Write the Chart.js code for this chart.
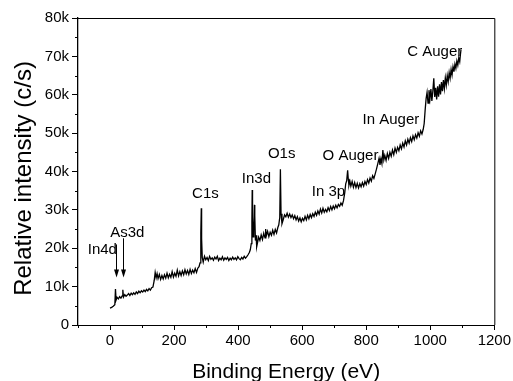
<!DOCTYPE html>
<html lang="en">
<head>
    <meta charset="UTF-8">
    <title>XPS survey spectrum</title>
    <script src="https://cdn.jsdelivr.net/npm/chart.js"></script>
    <style>
        body {
            margin: 0;
            background: #fff;
        }
        #wrap {
            width: 513px;
            height: 381px;
        }
    </style>
</head>
<body>
    <div id="wrap"><canvas id="xps" width="513" height="381"></canvas></div>

    <script>
        const energy = [
            0, 5, 10, 15, 17, 19, 22, 26, 30, 34, 38, 40, 42, 46, 50, 54, 58, 62, 66, 70,
            74, 78, 82, 86, 90, 94, 98, 102, 106, 110, 114, 118, 122, 126, 130, 134,
            138, 141, 144, 147, 150, 154, 158, 162, 166, 170, 174, 178, 182, 186, 190, 194, 198, 202, 206, 210,
            214, 218, 222, 226, 230, 234, 238, 242, 246, 250, 254, 258, 262, 266, 270, 274, 278,
            281, 283, 284, 285, 286, 288, 291, 295, 299, 303, 307, 311, 315, 319, 323, 327, 331, 335, 339, 343,
            347, 351, 355, 359, 363, 367, 371, 375, 379, 383, 387, 391, 395, 399, 403, 407, 411, 415, 419, 423,
            427, 431, 435,
            438, 441, 443, 444, 445, 447, 449, 451, 452, 454, 456, 458, 461, 464, 468, 472, 476, 480, 484, 486,
            488, 492, 496, 500, 504, 508, 512, 516, 520, 524, 527, 530, 532, 534, 537,
            541, 545, 549, 553, 557, 561, 565, 569, 573, 577, 581, 585, 589, 593, 597, 601, 605, 609, 613, 617,
            621, 625, 629, 633, 637, 641, 645, 649, 653, 657, 661, 665, 669, 673, 677, 681, 685, 689, 693, 697,
            701, 705, 709, 713, 717, 721, 725, 729, 733, 736, 739, 742, 744, 746, 749,
            752, 756, 760, 764, 768, 772, 776, 780, 784, 788, 792, 796, 800, 804, 808, 812, 816, 820, 824, 828,
            832, 836, 840, 843, 846, 849, 852, 855, 858, 862, 866, 870, 874, 878, 882, 886, 890, 894, 898, 902,
            906, 910, 914, 918, 922, 926, 930, 934, 938, 942, 946, 950, 954, 958, 962, 966, 970, 974, 978, 981,
            984, 987, 990, 993, 996, 999, 1002, 1005, 1008, 1011, 1014, 1017, 1020, 1023, 1026, 1029, 1032, 1035, 1038, 1041,
            1044, 1047, 1050, 1053, 1056, 1059, 1062, 1065, 1068, 1071, 1074, 1077, 1080, 1083, 1086, 1089, 1092, 1094, 1096
        ];
        const intensity = [
            4.4, 4.6, 4.9, 5.3, 9.4, 6.5, 7.2, 6.8, 7.4, 7.0, 7.6, 9.2, 7.3, 7.9, 7.5, 7.8, 8.2, 7.7, 8.3, 7.9,
            8.4, 8.0, 8.6, 8.2, 8.8, 8.4, 8.9, 8.6, 9.1, 8.7, 9.3, 8.9, 9.5, 9.1, 9.7, 9.9,
            11.6, 13.7, 12.3, 13.4, 12.1, 13.2, 11.9, 12.9, 12.0, 13.1, 12.2, 13.5, 12.3, 13.2, 12.4, 13.9, 12.5, 13.5, 12.7, 14.3,
            12.8, 13.9, 12.9, 14.1, 13.1, 14.4, 13.3, 14.2, 13.2, 14.5, 13.4, 14.3, 13.6, 14.7, 13.7, 14.8, 15.2,
            16.2, 19.0, 24.0, 30.4, 22.5, 17.6, 16.4, 17.9, 17.0, 17.6, 16.8, 17.9, 17.1, 17.5, 16.9, 17.7, 17.2, 17.9, 16.8, 17.4,
            17.0, 17.8, 16.9, 17.5, 17.1, 17.6, 16.8, 17.4, 17.0, 17.7, 17.1, 17.5, 17.0, 17.8, 17.3, 17.0, 17.6, 17.2, 17.9, 17.4,
            17.8, 18.3, 18.9,
            19.6, 21.2, 27.0, 35.2, 28.0, 23.0, 24.6, 31.3, 28.5, 22.0, 23.4, 20.4, 21.6, 22.9, 22.0, 23.5, 22.3, 23.9, 22.7, 25.0,
            23.2, 24.4, 23.0, 24.2, 23.4, 24.7, 23.6, 24.9, 24.0, 25.4, 26.1, 28.0, 40.6, 29.0, 26.4,
            27.5, 28.7, 28.2, 29.1, 28.1, 28.9, 28.0, 28.7, 27.7, 28.5, 27.4, 28.2, 27.1, 27.9, 26.9, 27.8, 27.2, 28.3, 27.4, 28.6,
            27.7, 28.8, 28.0, 29.0, 28.3, 29.4, 28.6, 29.7, 28.9, 30.2, 29.2, 30.4, 29.4, 30.1, 29.5, 30.6, 29.8, 30.9, 30.0, 31.0,
            30.3, 31.2, 30.5, 31.4, 30.9, 31.8, 31.2, 32.4, 34.5, 36.8, 37.6, 40.3, 38.0, 36.4, 37.5,
            36.2, 37.4, 35.9, 37.1, 35.8, 36.9, 35.7, 36.8, 36.0, 37.1, 36.2, 37.4, 36.6, 37.9, 37.0, 38.3, 37.5, 38.9, 38.2, 39.4,
            40.6, 42.0, 43.4, 41.7, 43.3, 42.1, 45.6, 43.0, 44.2, 42.9, 44.7, 43.4, 45.0, 44.0, 45.6, 44.4, 46.1, 45.0, 46.3, 45.4,
            46.9, 45.9, 47.4, 46.4, 48.0, 46.9, 48.4, 47.4, 48.8, 47.8, 49.3, 48.3, 49.6, 48.7, 50.1, 49.2, 50.6, 49.8, 51.0, 52.5,
            56.0, 59.0, 60.6, 57.8, 61.2, 58.9, 61.5, 58.4, 60.9, 64.3, 59.4, 61.8, 58.8, 62.2, 59.5, 62.7, 60.1, 63.3, 60.9, 63.8,
            61.6, 64.4, 62.5, 65.0, 63.4, 65.8, 64.3, 66.6, 65.1, 67.3, 66.0, 68.0, 66.9, 68.8, 67.7, 69.6, 68.6, 70.4, 71.8
        ];

        // axis ticks
        const xTicks = [0, 200, 400, 600, 800, 1000, 1200];
        const xMinor = [-100, 100, 300, 500, 700, 900, 1100];
        const yTicks = [0, 10, 20, 30, 40, 50, 60, 70, 80];
        const yMinor = [5, 15, 25, 35, 45, 55, 65, 75];

        // peak labels, anchored in data coordinates (eV, k c/s)
        const peakNames = ['In4d', 'As3d', 'C1s', 'In3d', 'O1s', 'In 3p', 'O Auger', 'In Auger', 'C Auger'];
        const peakE = [-24, 54, 298, 457, 536, 682, 751, 877, 1014];
        const peakI = [19.7, 24.0, 34.3, 38.2, 44.7, 34.7, 44.0, 53.4, 71.2];

        // arrows for In4d and As3d: energy, start and end intensity
        const arrowE = [18, 41];
        const arrowFrom = [21.0, 22.6];
        const arrowTo = [12.4, 12.4];

        const FONT = "'Liberation Sans', Arial, sans-serif";

        const decorations = {
            id: 'decorations',
            afterDraw(chart) {
                const { ctx, chartArea: a, scales: { x, y } } = chart;
                ctx.save();
                ctx.strokeStyle = '#000';
                ctx.fillStyle = '#000';
                ctx.lineWidth = 1;

                // top and right frame
                ctx.beginPath();
                ctx.moveTo(a.left, a.top + 0.5);
                ctx.lineTo(a.right + 0.5, a.top + 0.5);
                ctx.lineTo(a.right + 0.5, a.bottom);
                ctx.stroke();

                // minor ticks
                ctx.beginPath();
                xMinor.forEach(v => {
                    const px = Math.round(x.getPixelForValue(v)) + 0.5;
                    ctx.moveTo(px, a.bottom);
                    ctx.lineTo(px, a.bottom + 3);
                });
                yMinor.forEach(v => {
                    const py = Math.round(y.getPixelForValue(v)) + 0.5;
                    ctx.moveTo(a.left, py);
                    ctx.lineTo(a.left - 3, py);
                });
                ctx.stroke();

                // peak labels
                ctx.font = '15px ' + FONT;
                ctx.textAlign = 'center';
                ctx.textBaseline = 'middle';
                peakNames.forEach((t, i) => {
                    ctx.fillText(t, x.getPixelForValue(peakE[i]), y.getPixelForValue(peakI[i]));
                });

                // arrows
                arrowE.forEach((e, i) => {
                    const px = Math.round(x.getPixelForValue(e)) + 0.5;
                    const y0 = y.getPixelForValue(arrowFrom[i]);
                    const y1 = y.getPixelForValue(arrowTo[i]);
                    ctx.beginPath();
                    ctx.moveTo(px, y0);
                    ctx.lineTo(px, y1 - 4);
                    ctx.stroke();
                    ctx.beginPath();
                    ctx.moveTo(px, y1);
                    ctx.lineTo(px - 2.5, y1 - 8);
                    ctx.lineTo(px + 2.5, y1 - 8);
                    ctx.closePath();
                    ctx.fill();
                });

                // y axis title
                ctx.font = '24px ' + FONT;
                ctx.translate(24, (a.top + a.bottom) / 2 + 7);
                ctx.rotate(-Math.PI / 2);
                ctx.fillText('Relative intensity (c/s)', 0, 0);
                ctx.restore();
            }
        };

        const ctx = document.getElementById('xps').getContext('2d');
        new Chart(ctx, {
            type: 'line',
            data: {
                datasets: [{
                    data: energy.map((e, i) => ({ x: e, y: intensity[i] })),
                    borderColor: '#000',
                    borderWidth: 1.3,
                    pointRadius: 0,
                    tension: 0,
                    fill: false
                }]
            },
            options: {
                responsive: false,
                animation: false,
                events: [],
                layout: { padding: { top: 18, right: 18, left: 0, bottom: 0 } },
                plugins: {
                    legend: { display: false },
                    tooltip: { enabled: false }
                },
                scales: {
                    x: {
                        type: 'linear',
                        min: -100,
                        max: 1200,
                        afterBuildTicks: s => { s.ticks = xTicks.map(v => ({ value: v })); },
                        afterFit: s => { s.height = 56; },
                        border: { color: '#000', width: 1 },
                        grid: { drawOnChartArea: false, color: '#000', tickLength: 5 },
                        ticks: {
                            color: '#000',
                            padding: 2,
                            maxRotation: 0,
                            font: { family: FONT, size: 15 },
                            callback: v => String(v)
                        },
                        title: {
                            display: true,
                            text: 'Binding Energy (eV)',
                            color: '#000',
                            font: { family: FONT, size: 21 },
                            padding: { top: 0, bottom: -4 }
                        }
                    },
                    y: {
                        min: 0,
                        max: 80,
                        afterBuildTicks: s => { s.ticks = yTicks.map(v => ({ value: v })); },
                        afterFit: s => { s.width = 78; },
                        border: { color: '#000', width: 1.3 },
                        grid: { drawOnChartArea: false, color: '#000', tickLength: 6 },
                        ticks: {
                            color: '#000',
                            padding: 3,
                            font: { family: FONT, size: 15 },
                            callback: v => v === 0 ? '0' : v + 'k'
                        }
                    }
                }
            },
            plugins: [decorations]
        });
    </script>
</body>
</html>
